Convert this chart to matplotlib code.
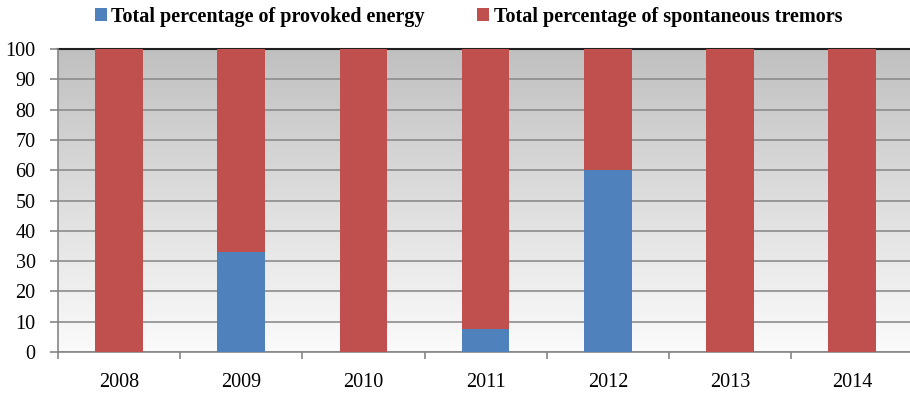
import matplotlib.pyplot as plt
import numpy as np

years = ["2008", "2009", "2010", "2011", "2012", "2013", "2014"]
provoked = [0, 33, 0, 7.5, 60, 0, 0]
spontaneous = [100 - p for p in provoked]

plt.rcParams['font.family'] = ['Liberation Serif', 'DejaVu Serif']

fig = plt.figure(figsize=(9.1, 3.93), dpi=100)
ax = fig.add_axes([0.0637, 0.1043, 0.94, 0.7707])

x = np.arange(len(years))

# grey-to-white vertical gradient behind the bars
grad = np.linspace(0, 1, 256).reshape(-1, 1)
ax.imshow(grad, extent=(-0.5, len(years) - 0.5, 0, 100), aspect='auto',
          cmap=plt.matplotlib.colors.LinearSegmentedColormap.from_list(
              "bg", ["#fbfbfb", "#c0c0c0"]),
          origin='lower', zorder=0)

ax.bar(x, provoked, width=0.39, color="#4f81bd", zorder=3,
       label="Total percentage of provoked energy")
ax.bar(x, spontaneous, width=0.39, bottom=provoked, color="#c0504d", zorder=3,
       label="Total percentage of spontaneous tremors")

ax.set_xlim(-0.5, len(years) - 0.5)
ax.set_ylim(0, 100)
ax.set_yticks(range(0, 101, 10))
ax.yaxis.grid(True, color="#8c8c8c", linewidth=1.2, zorder=1)
ax.set_axisbelow(True)
ax.axhline(100, color="#202020", linewidth=1.5, zorder=2, clip_on=False)

ax.set_xticks(x)
ax.set_xticklabels(years)
ax.set_xticks(np.arange(-0.5, len(years)), minor=True)
ax.tick_params(axis='x', which='major', length=0, labelsize=14.5, pad=15)
ax.tick_params(axis='x', which='minor', length=5, color="#868686", width=1.2)
ax.tick_params(axis='y', length=6, color="#868686", width=1.2, labelsize=14.5, pad=10)

for s in ["top", "right"]:
    ax.spines[s].set_visible(False)
ax.spines["left"].set_color("#868686")
ax.spines["bottom"].set_color("#868686")
ax.spines["left"].set_linewidth(1.2)
ax.spines["bottom"].set_linewidth(1.2)

fig.legend(loc="center", bbox_to_anchor=(0.515, 0.957), ncol=2, frameon=False,
           prop={'weight': 'bold', 'size': 14.5}, handlelength=0.6, handleheight=0.6,
           handletextpad=0.2, columnspacing=2.6)

fig.savefig("out.png", dpi=100)
